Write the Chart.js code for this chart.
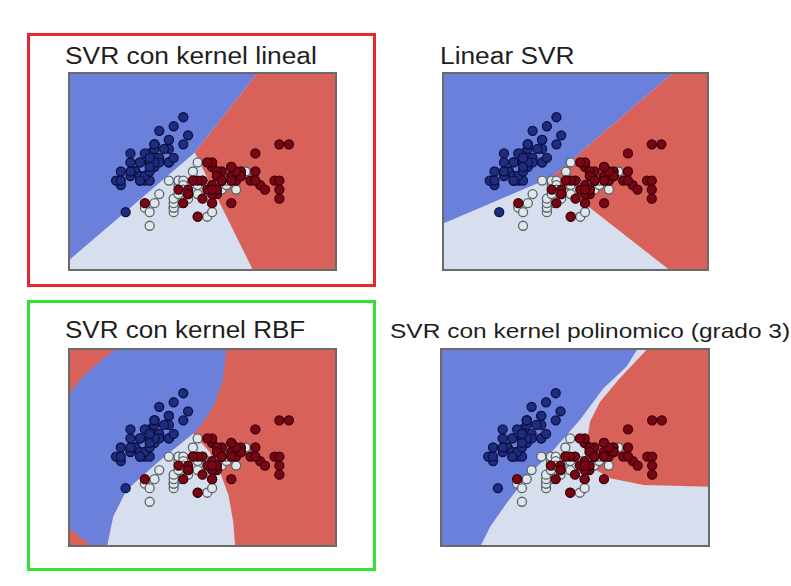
<!DOCTYPE html>
<html>
<head>
<meta charset="utf-8">
<script src="https://cdn.jsdelivr.net/npm/chart.js@4.4.1/dist/chart.umd.min.js"></script>
<style>
  body { margin: 0; background: #fff; width: 791px; height: 586px; position: relative; overflow: hidden;
         font-family: "Liberation Sans", Arial, sans-serif; }
  .frame { position: absolute; box-sizing: border-box; }
  .title { position: absolute; white-space: nowrap; color: #1e1e1e; line-height: 1; transform-origin: 0 0; }
  canvas { position: absolute; }
</style>
</head>
<body>
<div class="frame" style="left:27px;top:33px;width:349px;height:254px;border:3px solid #e8262e;"></div>
<div class="frame" style="left:27px;top:300px;width:349px;height:271px;border:3px solid #35e035;"></div>

<span class="title" id="t1" style="left:65px;top:45px;font-size:23px;">SVR con kernel lineal</span>
<span class="title" id="t2" style="left:440px;top:45px;font-size:23px;">Linear SVR</span>
<span class="title" id="t3" style="left:65px;top:319px;font-size:23px;">SVR con kernel RBF</span>
<span class="title" id="t4" style="left:390px;top:320px;font-size:21px;">SVR con kernel polinomico (grado 3)</span>

<canvas id="c1" width="269" height="199" style="left:68px;top:72px;"></canvas>
<canvas id="c2" width="267" height="199" style="left:442px;top:72px;"></canvas>
<canvas id="c3" width="269" height="199" style="left:68px;top:348px;"></canvas>
<canvas id="c4" width="270" height="199" style="left:440px;top:348px;"></canvas>

<script>
// iris: sepal length (x) vs sepal width (y)
const setosaX = [5.1,4.9,4.7,4.6,5.0,5.4,4.6,5.0,4.4,4.9,5.4,4.8,4.8,4.3,5.8,5.7,5.4,5.1,5.7,5.1,5.4,5.1,4.6,5.1,4.8,5.0,5.0,5.2,5.2,4.7,4.8,5.4,5.2,5.5,4.9,5.0,5.5,4.9,4.4,5.1,5.0,4.5,4.4,5.0,5.1,4.8,5.1,4.6,5.3,5.0];
const setosaY = [3.5,3.0,3.2,3.1,3.6,3.9,3.4,3.4,2.9,3.1,3.7,3.4,3.0,3.0,4.0,4.4,3.9,3.5,3.8,3.8,3.4,3.7,3.6,3.3,3.4,3.0,3.4,3.5,3.4,3.2,3.1,3.4,4.1,4.2,3.1,3.2,3.5,3.6,3.0,3.4,3.5,2.3,3.2,3.5,3.8,3.0,3.8,3.2,3.7,3.3];
const versicolorX = [7.0,6.4,6.9,5.5,6.5,5.7,6.3,4.9,6.6,5.2,5.0,5.9,6.0,6.1,5.6,6.7,5.6,5.8,6.2,5.6,5.9,6.1,6.3,6.1,6.4,6.6,6.8,6.7,6.0,5.7,5.5,5.5,5.8,6.0,5.4,6.0,6.7,6.3,5.6,5.5,5.5,6.1,5.8,5.0,5.6,5.7,5.7,6.2,5.1,5.7];
const versicolorY = [3.2,3.2,3.1,2.3,2.8,2.8,3.3,2.4,2.9,2.7,2.0,3.0,2.2,2.9,2.9,3.1,3.0,2.7,2.2,2.5,3.2,2.8,2.5,2.8,2.9,3.0,2.8,3.0,2.9,2.6,2.4,2.4,2.7,2.7,3.0,3.4,3.1,2.3,3.0,2.5,2.6,3.0,2.6,2.3,2.7,3.0,2.9,2.9,2.5,2.8];
const virginicaX = [6.3,5.8,7.1,6.3,6.5,7.6,4.9,7.3,6.7,7.2,6.5,6.4,6.8,5.7,5.8,6.4,6.5,7.7,7.7,6.0,6.9,5.6,7.7,6.3,6.7,7.2,6.2,6.1,6.4,7.2,7.4,7.9,6.4,6.3,6.1,7.7,6.3,6.4,6.0,6.9,6.7,6.9,5.8,6.8,6.7,6.7,6.3,6.5,6.2,5.9];
const virginicaY = [3.3,2.7,3.0,2.9,3.0,3.0,2.5,2.9,2.5,3.6,3.2,2.7,3.0,2.5,2.8,3.2,3.0,3.8,2.6,2.2,3.2,2.8,2.8,2.7,3.3,3.2,2.8,3.0,2.8,3.0,2.8,3.8,2.8,2.8,2.6,3.0,3.4,3.1,3.0,3.1,3.1,3.1,2.7,3.2,3.3,3.0,2.5,3.0,3.4,3.0];

// axis ranges (data min - 1 .. max + 1)
const xRange = [3.3, 8.9];
const yRange = [1.0, 5.4];

// decision regions (data units)
const linealBlueX = [3.3, 7.26, 5.94, 3.3];
const linealBlueY = [5.4, 5.4, 3.62, 1.22];
const linealRedX = [7.26, 8.9, 8.9, 7.16, 5.94];
const linealRedY = [5.4, 5.4, 1.0, 1.0, 3.62];

const linsvrBlueX = [3.3, 8.17, 5.59, 3.3];
const linsvrBlueY = [5.4, 5.4, 3.07, 2.04];
const linsvrRedX = [8.17, 8.9, 8.9, 8.10, 5.59];
const linsvrRedY = [5.4, 5.4, 1.0, 1.0, 3.07];

const rbfBlueX = [3.3, 3.62, 3.98, 4.33, 6.60, 6.53, 6.32, 6.05, 5.91, 5.22, 4.52, 4.24, 4.14, 4.11, 3.83, 3.55, 3.3];
const rbfBlueY = [4.35, 4.78, 5.12, 5.4, 5.4, 4.69, 4.10, 3.66, 3.51, 2.92, 2.26, 1.67, 1.15, 1.0, 1.0, 1.22, 1.45];
const rbfLightX = [4.11, 6.78, 6.74, 6.64, 6.46, 6.24, 5.91, 5.22, 4.52, 4.24, 4.14];
const rbfLightY = [1.0, 1.0, 1.56, 2.15, 2.67, 3.11, 3.51, 2.92, 2.26, 1.67, 1.15];

const polyBlueX = [3.3, 7.41, 7.17, 6.69, 6.20, 5.65, 5.10, 4.68, 4.34, 4.13, 3.3];
const polyBlueY = [5.4, 5.4, 4.99, 4.51, 3.81, 3.14, 2.55, 1.97, 1.45, 1.0, 1.0];
const polyRedX = [7.62, 8.9, 8.9, 7.52, 6.83, 6.48, 6.34, 6.41, 6.62, 7.03];
const polyRedY = [5.4, 5.4, 2.33, 2.37, 2.52, 2.74, 3.26, 3.77, 4.21, 4.73];

const BLUE = '#6a80da';
const LIGHT = '#d7deee';
const RED = '#d8615a';

const pts = (xs, ys) => xs.map((v, i) => ({ x: v, y: ys[i] }));

// fills the plot background and the region polygons through the chart scales
const regions = (background, shapes) => ({
  id: 'regions',
  beforeDatasetsDraw(chart) {
    const { ctx, chartArea, scales } = chart;
    ctx.save();
    ctx.fillStyle = background;
    ctx.fillRect(chartArea.left, chartArea.top, chartArea.width, chartArea.height);
    shapes.forEach(s => {
      ctx.beginPath();
      s.xs.forEach((v, i) => {
        const px = scales.x.getPixelForValue(v);
        const py = scales.y.getPixelForValue(s.ys[i]);
        if (i === 0) ctx.moveTo(px, py); else ctx.lineTo(px, py);
      });
      ctx.closePath();
      ctx.fillStyle = s.color;
      ctx.fill();
    });
    ctx.restore();
  },
  afterDraw(chart) {
    const { ctx, chartArea } = chart;
    ctx.save();
    ctx.strokeStyle = '#6a6a6a';
    ctx.lineWidth = 2;
    ctx.strokeRect(chartArea.left + 1, chartArea.top + 1, chartArea.width - 2, chartArea.height - 2);
    ctx.restore();
  }
});

const makeChart = (id, background, shapes) => new Chart(document.getElementById(id), {
  type: 'scatter',
  data: {
    datasets: [
      { label: 'virginica', data: pts(virginicaX, virginicaY), backgroundColor: '#7a0615', borderColor: '#3c0008' },
      { label: 'versicolor', data: pts(versicolorX, versicolorY), backgroundColor: '#e2e6ea', borderColor: '#56686c' },
      { label: 'setosa', data: pts(setosaX, setosaY), backgroundColor: '#1f2c82', borderColor: '#0c133e' }
    ]
  },
  options: {
    responsive: false,
    animation: false,
    layout: { padding: 0, autoPadding: false },
    elements: { point: { radius: 4.5, borderWidth: 1.3, hoverRadius: 4.5 } },
    scales: {
      x: { type: 'linear', min: xRange[0], max: xRange[1], display: false },
      y: { type: 'linear', min: yRange[0], max: yRange[1], display: false }
    },
    plugins: { legend: { display: false }, tooltip: { enabled: false } }
  },
  plugins: [regions(background, shapes)]
});

makeChart('c1', LIGHT, [
  { xs: linealBlueX, ys: linealBlueY, color: BLUE },
  { xs: linealRedX, ys: linealRedY, color: RED }
]);
makeChart('c2', LIGHT, [
  { xs: linsvrBlueX, ys: linsvrBlueY, color: BLUE },
  { xs: linsvrRedX, ys: linsvrRedY, color: RED }
]);
makeChart('c3', RED, [
  { xs: rbfBlueX, ys: rbfBlueY, color: BLUE },
  { xs: rbfLightX, ys: rbfLightY, color: LIGHT }
]);
makeChart('c4', LIGHT, [
  { xs: polyBlueX, ys: polyBlueY, color: BLUE },
  { xs: polyRedX, ys: polyRedY, color: RED }
]);

// titles in the picture are a little wider than the font; stretch to the measured width
const titleWidths = { t1: 252, t2: 135, t3: 240, t4: 400 };
Object.keys(titleWidths).forEach(id => {
  const el = document.getElementById(id);
  el.style.transform = 'scaleX(' + (titleWidths[id] / el.offsetWidth).toFixed(3) + ')';
});
</script>
</body>
</html>
